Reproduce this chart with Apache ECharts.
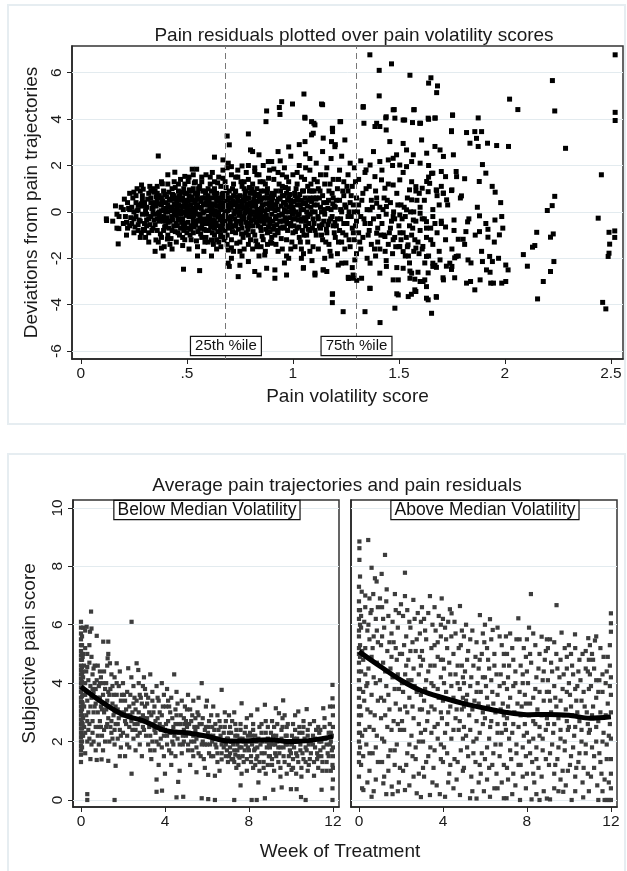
<!DOCTYPE html>
<html>
<head>
<meta charset="utf-8">
<title>Pain residuals and pain trajectories</title>
<script src="https://cdn.jsdelivr.net/npm/echarts@6/dist/echarts.min.js"></script>
<style>
  html, body { margin: 0; padding: 0; background: #fff; }
  #chart { width: 627px; height: 871px; }
</style>
</head>
<body>
<div id="chart"></div>
<script>
// axis ticks
const volatilityTicks = [0, 0.5, 1, 1.5, 2, 2.5]
const volatilityTickLabels = ['0', '.5', '1', '1.5', '2', '2.5']
const deviationTicks = [-6, -4, -2, 0, 2, 4, 6]
const weekTicks = [0, 4, 8, 12]
const painTicks = [0, 2, 4, 6, 8, 10]

// percentile cut points of volatility
const percentiles = [0.684, 1.30]
const percentileLabels = ['25th %ile', '75th %ile']

// average trajectories (weekly)
const weeks = [0, 1, 2, 3, 4, 5, 6, 7, 8, 9, 10, 11, 12]
const belowTrend = [3.88, 3.35, 2.92, 2.7, 2.38, 2.3, 2.18, 2.02, 2.03, 2.06, 2.0, 2.05, 2.17]
const aboveTrend = [5.08, 4.58, 4.1, 3.73, 3.5, 3.3, 3.14, 3.0, 2.92, 2.93, 2.9, 2.8, 2.85]
const panelLabels = ['Below Median Volatility', 'Above Median Volatility']

// [volatility score, deviation] - outer, sparser points
const residualsOuter = [
  [0.121,-0.37],[0.163,0.26],[0.176,-1.38],[0.179,-0.72],[0.365,2.41],[0.484,-2.47],[0.56,-2.53],[0.388,-1.9],[0.354,-1.21],[0.38,-1.56],
  [0.443,1.71],[0.384,1.21],[0.286,1.16],[0.294,0.98],[0.23,0.8],[0.25,0.85],[0.616,-1.9],[0.63,2.36],[0.525,1.84],[0.546,1.84],
  [0.49,1.53],[0.506,1.31],[0.69,3.27],[0.70,2.89],[0.79,3.36],[0.80,2.67],[0.81,2.6],[0.84,2.46],[0.67,2.24],[0.695,2.1],
  [0.71,1.95],[0.76,1.98],[0.79,2.0],[0.82,1.74],[0.884,2.17],[0.90,2.17],[0.695,-2.21],[0.70,-2.35],[0.742,-2.79],[0.75,-2.3],
  [0.79,-2.14],[0.82,-2.57],[0.84,-2.72],[0.876,-2.43],[0.915,-2.5],[0.833,-1.42],[0.867,-1.86],[0.90,-1.35],[0.616,-1.21],[0.66,-1.07],
  [0.695,-1.64],[0.71,-2.0],[0.393,-1.5],[0.408,-1.17],
  [0.947,4.75],[0.998,4.65],[1.135,4.65],[0.876,4.35],[0.936,4.5],[0.939,4.2],[0.873,3.89],[1.057,4.04],[1.088,3.89],[1.104,3.75],
  [1.187,3.6],[1.187,3.46],[1.225,3.89],[1.088,3.32],[1.096,3.39],[1.057,3.03],[1.143,3.18],[1.182,3.03],[1.198,2.81],[1.245,3.1],
  [1.332,4.54],[1.335,3.82],[1.395,3.82],[1.41,3.68],[1.44,3.53],[1.387,3.68],[1.473,4.4],[1.481,4.04],[1.44,4.1],[1.52,3.96],
  [1.564,3.85],[1.57,4.4],[1.598,3.82],[1.638,4.04],[1.67,4.04],[1.753,4.18],[1.748,3.5],
  [1.457,3.03],[1.489,2.46],[1.52,2.95],[1.536,2.67],[1.568,2.46],[1.607,3.1],[1.631,2.53],[1.67,2.82],[1.694,2.67],[1.71,2.39],[1.757,2.46],
  [1.41,2.17],[1.45,2.24],[1.473,2.31],[1.504,2.02],[1.536,1.95],[1.56,2.17],[1.6,2.1],[1.64,2.0],[1.66,1.67],[1.7,1.74],[1.72,1.52],[1.77,1.74],
  [1.364,2.02],[1.345,1.81],[1.387,1.52],[1.418,1.38],[1.434,1.02],[1.473,1.16],[1.504,1.38],[1.55,0.95],[1.58,1.09],[1.61,1.02],
  [1.645,1.23],[1.676,0.95],[1.71,0.81],[1.75,0.95],
  [1.364,0.09],[1.395,0.37],[1.441,0.23],[1.473,-0.2],[1.504,-0.13],[1.536,0.09],[1.568,-0.35],[1.6,-0.06],[1.63,-0.42],[1.66,-0.2],
  [1.7,-0.5],[1.72,-0.65],[1.76,-0.35],
  [1.395,-0.92],[1.434,-1.06],[1.473,-1.2],[1.504,-1.49],[1.52,-1.71],[1.543,-1.42],[1.58,-1.56],[1.613,-1.49],[1.63,-1.92],[1.66,-2.21],
  [1.694,-2.07],[1.74,-2.21],[1.77,-1.92],
  [1.364,-2.21],[1.41,-2.64],[1.441,-2.35],[1.473,-2.93],[1.52,-2.43],[1.56,-2.64],[1.6,-3.0],[1.63,-3.22],[1.66,-2.35],[1.71,-2.93],[1.75,-2.35],
  [1.187,-3.53],[1.364,-3.3],[1.49,-3.53],[1.544,-3.65],[1.58,-3.43],[1.63,-3.72],[1.676,-3.65],[1.301,-2.95],[1.262,-2.87],[1.284,-2.72],
  [0.915,-2.86],[0.97,-2.72],[1.049,-2.43],[1.104,-2.64],[1.143,-2.5],[1.214,-2.29],
  [1.363,6.77],[1.465,6.38],[1.407,6.1],[1.552,5.89],[1.651,5.78],[1.64,5.55],[1.682,5.43],[1.678,5.14],[1.407,5.0],[1.14,4.62],
  [1.052,5.08],[1.331,4.51],[1.478,4.41],[1.572,4.41],[1.056,4.08],[1.438,4.05],[1.527,3.96],[1.602,3.82],[1.64,3.99],[1.671,4.05],
  [1.753,4.16],[1.874,4.05],[2.022,4.86],[2.061,4.41],[2.224,5.66],[2.235,4.35],[2.52,6.77],[2.52,4.29],[2.52,3.94],[2.286,2.74],
  [2.455,1.6],[2.235,0.67],[2.223,0.27],[2.2,0.06],[1.954,0.85],[2.017,2.82],[1.961,2.86],[1.918,2.96],[1.874,2.82],[1.894,2.04],
  [1.879,1.31],[1.91,1.67],[1.81,1.43],[1.772,1.52],[1.795,0.69],[1.748,3.46],[1.819,3.42],[1.858,3.46],[1.89,3.46],[1.866,3.17],
  [1.835,2.96],[1.222,3.89],[1.186,3.6],[1.099,3.82],[1.709,0.8],[1.748,0.92],[1.725,0.52],[1.678,0.92],[1.631,1.31],[1.638,0.87],
  [1.654,1.66],[1.596,0.8],[1.56,0.52],[2.44,-0.27],
  [2.491,-0.88],[2.518,-0.82],[2.518,-1.1],[2.494,-1.39],[2.491,-1.78],[2.487,-1.92],[2.461,-3.9],[2.476,-4.18],[2.154,-3.75],[2.181,-3.0],
  [2.215,-2.57],[2.231,-2.14],[2.215,-1.09],[2.228,-0.95],[2.15,-0.88],[2.141,-1.45],[2.13,-1.52],[2.087,-1.84],[2.106,-2.34],[1.985,-0.2],
  [1.953,-0.35],[1.974,-0.99],[1.92,-0.75],[1.92,-1.09],[1.88,-0.85],[1.88,-0.17],[1.824,-0.43],[1.816,-0.85],[1.803,-1.18],[1.78,-1.18],
  [1.826,-2.07],[1.928,-1.92],[1.941,-2.14],[1.913,-2.5],[1.894,-2.14],[2.004,-2.29],[2.015,-2.5],[2.004,-3.0],[1.985,-3.07],[1.946,-3.07],
  [1.933,-3.07],[1.883,-2.93],[1.838,-3.0],[1.819,-3.07],[1.858,-3.36],
  [1.763,-1.98],[1.748,-2.48],[1.763,-2.84],[1.708,-2.84],[1.724,-2.34],[1.677,-2.39],[1.638,-2.63],[1.622,-2.2],[1.575,-2.9],[1.552,-2.55],
  [1.552,-2.86],[1.622,-2.93],[1.614,-3.0],[1.497,-2.93],[1.497,-3.58],[1.559,-3.55],[1.575,-3.36],[1.638,-3.79],[1.677,-3.68],[1.654,-4.37],
  [1.481,-4.15],[1.411,-4.77],[1.34,-4.3],[1.237,-4.3],[1.186,-3.55],[1.186,-3.91],
  [1.284,-2.86],[1.261,-2.82],[1.324,-2.86],[1.363,-3.29],[1.292,-2.07],[1.23,-2.21],[1.16,-2.57],[1.143,-2.5],[1.104,-2.72]
]

// [volatility score, deviation] - dense core of the cloud
const residualsCore = [
  [0.12,-0.3],[0.15,-0.4],[0.17,-0.1],[0.17,-0.7],[0.19,0.2],[0.2,-0.5],[0.2,0.1],[0.18,-0.2],
  [0.21,-0.2],[0.22,0.4],[0.22,-0.7],[0.23,-0.6],[0.23,0.1],[0.24,0.2],[0.24,-0.5],[0.25,-0.3],[0.25,0],[0.25,-0.9],[0.26,0.4],[0.26,0.7],
  [0.26,-0.2],[0.27,-0.8],[0.27,0.1],[0.27,0.3],[0.28,-0.4],[0.28,0.9],[0.28,-1.1],[0.29,0.7],[0.29,-0.1],[0.29,0.5],[0.3,0.4],[0.3,-0.5],[0.3,-0.8],
  [0.31,0.2],[0.31,-0.6],[0.31,-0.1],[0.32,0.8],[0.32,-0.9],[0.32,-0.3],[0.32,-1.3],[0.33,-0.2],[0.33,0.4],[0.33,0.9],[0.34,-0.7],[0.34,0.2],
  [0.34,1.0],[0.34,0],[0.35,0.9],[0.35,-0.1],[0.35,-1.7],[0.35,0.4],[0.36,-0.8],[0.36,0.5],[0.36,-0.3],[0.36,1.1],[0.37,0],[0.37,-0.4],
  [0.37,0.7],[0.38,0.6],[0.38,-1.1],[0.38,0.3],[0.38,1.3],[0.39,0.1],[0.39,0.9],[0.39,-0.2],[0.39,-0.4],[0.4,-0.6],[0.4,0.4],[0.4,0],
  [0.41,0],[0.41,-1.0],[0.41,1.2],[0.41,0.3],[0.42,0.5],[0.42,-0.4],[0.42,-1.4],[0.43,0.2],[0.43,-0.8],[0.43,1.0],[0.44,-0.1],[0.44,0.7],
  [0.44,1.3],[0.45,-0.5],[0.45,0.3],[0.45,-1.3],[0.45,0.6],[0.46,0.9],[0.46,0],[0.46,-0.3],[0.47,-0.7],[0.47,0.5],[0.47,1.4],[0.47,-0.1],
  [0.48,-0.3],[0.48,0.2],[0.48,-1.1],[0.49,0.8],[0.49,-0.5],[0.49,1.2],[0.5,0.1],[0.5,-0.9],[0.5,0.5],
  [0.51,-0.2],[0.51,0.7],[0.51,1.5],[0.52,-0.6],[0.52,0.3],[0.52,-1.2],[0.52,0.9],[0.53,0],[0.53,1.0],[0.53,-0.9],[0.53,-0.3],[0.54,0.5],
  [0.54,-0.4],[0.54,1.3],[0.54,0.1],[0.55,-0.1],[0.55,0.8],[0.55,-1.5],[0.55,0.3],[0.56,0.2],[0.56,-0.7],[0.56,1.1],[0.56,-0.4],[0.57,-0.3],
  [0.57,0.6],[0.57,-1.1],[0.57,1.3],[0.58,0],[0.58,0.9],[0.58,-0.5],[0.58,-1.7],[0.59,1.6],[0.59,0.4],[0.59,-0.8],[0.6,-0.2],[0.6,0.7],[0.6,-1.3],
  [0.61,0.2],[0.61,-0.5],[0.61,1.2],[0.61,-0.2],[0.62,-0.9],[0.62,0.6],[0.62,-0.1],[0.62,1.7],[0.63,1.0],[0.63,-0.4],[0.63,0.3],[0.63,-0.7],
  [0.64,-1.2],[0.64,0.8],[0.64,0],[0.64,-1.6],[0.65,-0.6],[0.65,0.5],[0.65,1.5],[0.65,-1.3],[0.66,-0.2],[0.66,1.1],[0.66,-1.0],[0.66,0.4],
  [0.67,0.2],[0.67,-0.5],[0.67,0.8],[0.67,1.8],[0.68,-0.8],[0.68,1.3],[0.68,0],[0.68,0.7],[0.68,-1.1],[0.69,0.5],[0.69,-0.3],[0.69,-1.4],
  [0.69,1.9],[0.7,0.9],[0.7,0.1],[0.7,-0.7],
  [0.71,-0.2],[0.71,0.6],[0.71,-1.2],[0.71,1.6],[0.72,0.3],[0.72,1.2],[0.72,-0.6],[0.72,-1.7],[0.73,0],[0.73,-0.9],[0.73,0.9],[0.73,0.4],
  [0.74,0.5],[0.74,-0.4],[0.74,1.5],[0.74,1.8],[0.75,-0.1],[0.75,-1.3],[0.75,0.7],[0.75,0.2],[0.76,0.2],[0.76,-0.7],[0.76,1.1],[0.76,-1.9],
  [0.77,-0.3],[0.77,0.5],[0.77,-1.6],[0.77,1.0],[0.78,0.9],[0.78,0],[0.78,-0.9],[0.78,1.7],[0.79,1.4],[0.79,-0.5],[0.79,0.3],[0.79,-1.4],
  [0.8,-0.1],[0.8,0.8],[0.8,-1.2],[0.8,0.4],
  [0.81,0.3],[0.81,-0.6],[0.81,1.2],[0.82,-0.2],[0.82,0.7],[0.82,-1.0],[0.82,1.9],[0.83,0.1],[0.83,1.0],[0.83,-1.5],[0.83,-0.1],[0.84,-0.4],
  [0.84,0.5],[0.84,1.6],[0.84,-1.9],[0.85,0],[0.85,-0.8],[0.85,0.9],[0.85,0.5],[0.86,-1.2],[0.86,0.3],[0.86,1.3],[0.86,2.0],[0.87,-0.3],
  [0.87,0.6],[0.87,-1.7],[0.88,0.1],[0.88,1.0],[0.88,-0.9],[0.88,-1.4],[0.89,-0.5],[0.89,0.4],[0.89,1.8],[0.9,-0.1],[0.9,0.8],[0.9,-1.1],
  [0.91,0.3],[0.91,-0.6],[0.91,1.4],[0.92,-0.2],[0.92,0.9],[0.92,-1.4],[0.93,0.1],[0.93,-0.9],[0.93,1.7],[0.93,2.6],[0.94,0.6],[0.94,-0.4],
  [0.94,2.2],[0.95,-0.1],[0.95,1.1],[0.95,-1.6],[0.95,0.7],[0.96,0.4],[0.96,-0.7],[0.96,1.9],[0.96,-2.2],[0.97,-0.3],[0.97,0.8],[0.97,-1.2],
  [0.97,-1.9],[0.98,0],[0.98,1.3],[0.98,-2.0],[0.98,2.8],[0.99,0.5],[0.99,-0.5],[0.99,2.4],[1.0,-0.9],[1.0,0.2],[1.0,1.6],
  [1.01,-0.3],[1.01,0.7],[1.01,-1.5],[1.02,0.3],[1.02,1.2],[1.02,-0.7],[1.03,-0.1],[1.03,2.0],[1.03,-1.1],[1.03,2.9],[1.04,0.5],[1.04,-0.4],
  [1.04,1.5],[1.04,-1.6],[1.05,0.1],[1.05,-1.8],[1.05,0.9],[1.05,-2.4],[1.06,-0.6],[1.06,2.5],[1.06,0.4],[1.07,-0.2],[1.07,1.1],[1.07,-1.3],
  [1.08,0.6],[1.08,-0.8],[1.08,1.8],[1.08,2.3],[1.09,0],[1.09,-2.1],[1.09,0.9],[1.1,-0.5],[1.1,0.3],[1.1,1.4],
  [1.11,-1.0],[1.11,0.6],[1.11,2.1],[1.12,-0.3],[1.12,1.0],[1.12,-1.6],[1.13,0.2],[1.13,1.6],[1.13,-0.7],[1.14,-1.2],[1.14,0.7],[1.14,2.6],
  [1.15,-0.1],[1.15,1.2],[1.15,-2.0],[1.16,0.4],[1.16,-0.9],[1.16,1.9],[1.17,-0.4],[1.17,0.9],[1.17,-1.4],[1.18,0.1],[1.18,2.3],[1.18,-1.9],
  [1.19,0.6],[1.19,-0.6],[1.19,1.4],[1.2,-1.1],[1.2,0.2],[1.2,2.9],
  [1.21,-0.3],[1.21,1.0],[1.21,-1.8],[1.22,0.5],[1.22,-0.8],[1.22,1.8],[1.23,0],[1.23,-1.3],[1.23,2.4],[1.24,0.7],[1.24,-0.5],[1.24,1.3],
  [1.25,-2.2],[1.25,0.2],[1.25,-1.0],[1.26,1.6],[1.26,-0.2],[1.26,0.9],[1.27,-1.5],[1.27,0.4],[1.27,2.1],[1.28,-0.7],[1.28,1.1],[1.28,-2.4],
  [1.29,0],[1.29,-1.2],[1.29,1.9],[1.3,0.6],[1.3,-0.4],[1.3,-1.8],
  [1.31,-0.9],[1.31,0.3],[1.31,1.4],[1.32,-1.6],[1.32,-0.2],[1.32,2.2],[1.33,0.8],[1.33,-1.1],[1.34,-0.5],[1.34,1.7],[1.35,0.1],[1.35,-2.0],
  [1.36,-0.8],[1.36,1.1],[1.37,-1.4],[1.37,0.5],[1.38,-0.3],[1.38,2.6],[1.39,-1.9],[1.39,0.9],[1.4,-0.7],[1.4,-1.3],
  [1.41,0.2],[1.41,-1.6],[1.42,-0.5],[1.42,1.8],[1.43,-1.0],[1.43,0.6],[1.44,-2.1],[1.44,-0.1],[1.45,-1.4],[1.45,1.2],[1.46,-0.7],[1.46,0.4],
  [1.47,-1.8],[1.47,2.0],[1.48,-0.3],[1.48,-1.1],[1.49,0.8],[1.49,-2.4],[1.5,-0.6],[1.5,-1.5],
  [1.51,0.3],[1.51,-1.2],[1.52,-0.9],[1.52,1.7],[1.53,-1.9],[1.53,-0.2],[1.54,0.6],[1.54,-1.5],[1.55,-0.6],[1.55,-2.2],[1.56,1.3],[1.56,-1.0],
  [1.57,0],[1.57,-1.7],[1.58,-0.4],[1.58,0.9],[1.59,-1.3],[1.59,-2.6],[1.6,0.2],[1.6,-0.8],
  [1.61,-1.6],[1.62,0.5],[1.62,-0.3],[1.63,-1.1],[1.64,-1.9],[1.64,1.5],[1.65,-0.7],[1.66,0.1],[1.66,-1.4],[1.67,-2.3],[1.68,0.7],[1.68,-0.9],
  [1.69,-1.7],[1.7,-0.4],[1.7,1.1],
  [1.72,-1.2],[1.73,0.3],[1.75,-1.6],[1.76,-0.8],[1.78,-1.9],[1.79,0.6],[1.81,-1.4],[1.83,-0.3],[1.84,-2.2],[1.86,-1.0],[1.87,0.2],[1.89,-1.7],
  [1.91,-0.5],[1.93,-2.6],[1.95,-1.3],[1.97,-2.0],[1.99,-0.7],[1.98,0.4],[1.94,1.1]
]

// [volatility score, deviation] - more points read between the core columns
const residualsFill = [
  [0.205,0.55],[0.215,-0.45],[0.225,0.15],[0.235,-0.25],[0.245,0.6],[0.255,-0.65],[0.265,0.05],[0.275,-0.35],[0.285,0.35],[0.295,-0.75],
  [0.215,-1.0],[0.265,1.0],[0.285,-0.9],
  [0.305,0.05],[0.315,0.55],[0.325,-0.55],[0.335,0.15],[0.345,-0.35],[0.355,0.65],[0.365,-0.05],[0.375,-0.95],[0.385,0.45],[0.395,-0.65],
  [0.305,-1.1],[0.325,1.1],[0.345,0.85],[0.365,-1.3],[0.385,-0.3],[0.395,0.75],[0.355,0.25],[0.335,-0.8],
  [0.405,-0.25],[0.405,0.65],[0.415,-0.7],[0.415,0.85],[0.425,0.05],[0.425,-1.15],[0.435,0.55],[0.435,-0.35],[0.445,-0.85],[0.445,1.05],
  [0.455,0.15],[0.455,-0.6],[0.465,0.7],[0.465,-1.0],[0.475,0.25],[0.475,-0.45],[0.485,1.0],[0.485,-0.8],[0.495,0.35],[0.495,-0.15],
  [0.41,1.6],[0.43,-1.6],[0.46,1.2],[0.48,-1.45],[0.44,0.35],[0.47,0.05],[0.49,-1.2],[0.42,0.2],[0.45,-0.15],[0.48,0.6],
  [0.505,-0.45],[0.505,0.45],[0.515,0.1],[0.515,-1.0],[0.525,0.65],[0.525,-0.2],[0.535,1.25],[0.535,-0.65],[0.545,0.2],[0.545,-1.25],
  [0.555,-0.35],[0.555,1.0],[0.565,0.45],[0.565,-0.95],[0.575,-0.05],[0.575,0.9],[0.585,-1.3],[0.585,0.3],[0.595,0.05],[0.595,-0.5],
  [0.51,-1.6],[0.53,1.6],[0.55,-1.9],[0.57,1.5],[0.59,-1.1],[0.52,0.0],[0.54,0.8],[0.56,-0.1],[0.58,0.6],[0.6,0.3],[0.53,-0.5],[0.57,-0.7],
  [0.605,0.45],[0.605,-0.8],[0.615,0.0],[0.615,0.9],[0.625,-0.35],[0.625,-1.4],[0.635,0.65],[0.635,-0.15],[0.645,1.25],[0.645,-0.85],
  [0.655,0.2],[0.655,-0.35],[0.665,-0.7],[0.665,0.75],[0.675,0.4],[0.675,-1.2],[0.685,-0.1],[0.685,1.05],[0.695,0.25],[0.695,-0.6],
  [0.61,1.5],[0.63,-1.0],[0.65,0.0],[0.67,-0.25],[0.69,0.8],[0.62,0.15],[0.64,0.45],[0.66,-1.5],[0.68,-0.45],[0.6,1.0],[0.63,1.3],[0.67,1.45],[0.69,-1.0],
  [0.705,0.4],[0.705,-0.45],[0.715,1.0],[0.715,-0.85],[0.725,0.05],[0.725,-0.3],[0.735,0.65],[0.735,-1.35],[0.745,-0.15],[0.745,0.25],
  [0.755,1.3],[0.755,-0.5],[0.765,0.5],[0.765,-1.1],[0.775,-0.05],[0.775,0.8],[0.785,-0.6],[0.785,0.35],[0.795,-0.25],[0.795,1.05],
  [0.71,-1.55],[0.73,1.5],[0.75,-1.7],[0.77,1.3],[0.79,-1.0],[0.72,0.7],[0.74,0.0],[0.76,-0.3],[0.78,0.55],[0.8,-0.6],[0.73,-0.6],[0.77,0.15],
  [0.805,0.0],[0.805,1.0],[0.815,-0.35],[0.815,0.55],[0.825,-1.25],[0.825,0.25],[0.835,0.75],[0.835,-0.6],[0.845,-0.1],[0.845,1.3],
  [0.855,0.3],[0.855,-1.05],[0.865,-0.5],[0.865,0.9],[0.875,0.35],[0.875,-0.15],[0.885,-0.65],[0.885,1.45],[0.895,0.15],[0.895,-1.3],
  [0.81,-1.6],[0.83,1.6],[0.85,-1.5],[0.87,1.2],[0.89,-0.3],[0.82,0.4],[0.84,0.1],[0.86,-0.2],[0.88,0.6],[0.9,0.45],
  [0.905,-0.4],[0.905,0.6],[0.915,0.05],[0.915,-1.0],[0.925,0.45],[0.925,-0.55],[0.935,1.2],[0.935,-0.15],[0.945,-1.15],[0.945,0.25],
  [0.955,0.4],[0.955,-0.4],[0.965,1.05],[0.965,0.0],[0.975,-0.8],[0.975,0.5],[0.985,-0.25],[0.985,0.75],[0.995,0.15],[0.995,-1.3],
  [0.91,1.85],[0.93,-1.7],[0.95,1.6],[0.97,1.5],[0.99,-1.6],[0.92,0.3],[0.94,-0.7],[0.96,0.1],[0.98,0.6],[1.0,-0.3],
  [1.005,0.45],[1.005,-0.6],[1.015,1.0],[1.015,0.0],[1.025,-0.35],[1.025,0.6],[1.035,-1.3],[1.035,0.3],[1.045,0.9],[1.045,-0.8],
  [1.055,-0.25],[1.055,1.4],[1.065,0.0],[1.065,-1.0],[1.075,0.5],[1.075,-0.5],[1.085,1.2],[1.085,0.2],[1.095,-0.3],[1.095,-1.5],
  [1.02,1.7],[1.04,-2.0],[1.06,1.9],[1.08,-1.7],[1.1,0.9],
  [1.105,0.0],[1.105,-0.8],[1.115,0.3],[1.115,1.3],[1.125,-0.6],[1.125,0.6],[1.135,-1.0],[1.135,0.0],[1.145,0.4],[1.145,-0.4],
  [1.155,1.6],[1.155,-1.3],[1.165,0.15],[1.165,-0.55],[1.175,1.2],[1.175,-1.7],[1.185,-0.2],[1.185,0.8],[1.195,-0.9],[1.195,0.25],
  [1.205,0.5],[1.205,-0.6],[1.215,1.4],[1.215,-1.3],[1.225,0.1],[1.225,-0.3],[1.235,0.9],[1.235,-0.9],[1.245,-1.6],[1.245,0.3],
  [1.255,1.1],[1.255,-0.5],[1.265,0.0],[1.265,-1.2],[1.275,0.7],[1.275,-0.2],[1.285,-0.9],[1.285,0.3],[1.295,1.3],[1.295,-0.6],
  [1.305,0.0],[1.315,-1.3],[1.325,0.5],[1.335,-0.3],[1.345,1.0],[1.355,-1.0],[1.365,-0.5],[1.375,0.2],[1.385,-1.6],[1.395,0.6],
  [1.405,-0.2],[1.415,-1.0],[1.425,0.1],[1.435,-1.7],[1.445,0.5],[1.455,-0.9],[1.465,-0.4],[1.475,0.0],[1.485,-1.5],[1.495,0.3],
  [1.505,-0.9],[1.515,-0.3],[1.525,0.2],[1.535,-1.1],[1.545,-1.9],[1.555,0.0],[1.565,-0.7],[1.575,-1.2],[1.585,0.5],[1.595,-1.8],
  [1.61,-0.3],[1.63,-0.7],[1.65,-1.2],[1.67,-0.5],[1.69,0.3]
]

// [volatility score, deviation] - darkest part of the cloud, around zero
const residualsCenter = [
  [0.402,0.15],[0.412,-0.45],[0.418,0.55],[0.428,-0.2],[0.432,0.75],[0.438,-0.6],[0.442,0.1],[0.452,0.45],[0.458,-0.9],[0.462,0.3],
  [0.468,-0.35],[0.472,0.85],[0.478,-0.05],[0.482,-0.6],[0.488,0.45],[0.492,0.0],[0.498,0.8],[0.498,-0.7],
  [0.502,0.25],[0.508,-0.1],[0.512,0.95],[0.518,-0.75],[0.522,0.5],[0.528,0.15],[0.532,-0.15],[0.538,0.4],[0.542,-0.55],[0.548,0.65],
  [0.552,-0.85],[0.558,0.55],[0.562,-0.2],[0.568,0.15],[0.572,-0.5],[0.578,0.35],[0.582,-0.75],[0.588,0.8],[0.592,-0.3],[0.598,0.55],
  [0.602,-0.35],[0.608,0.1],[0.612,-0.65],[0.618,0.35],[0.622,-0.55],[0.628,0.8],[0.632,0.05],[0.638,-0.5],[0.642,0.25],[0.648,-0.2],
  [0.652,0.6],[0.658,-0.8],[0.662,0.1],[0.668,-0.4],[0.672,0.6],[0.678,-0.15],[0.682,0.3],[0.688,-0.65],[0.692,0.05],[0.698,0.6],
  [0.702,-0.25],[0.708,0.2],[0.712,-0.65],[0.718,0.45],[0.722,-0.1],[0.728,0.85],[0.732,-0.45],[0.738,0.2],[0.742,-0.75],[0.748,0.45],
  [0.752,0.0],[0.758,-0.95],[0.762,0.35],[0.768,-0.2],[0.772,0.65],[0.778,-0.45],[0.782,0.15],[0.788,-0.75],[0.792,0.6],[0.798,0.1],
  [0.802,-0.4],[0.808,0.25],[0.812,-0.85],[0.818,0.85],[0.822,0.0],[0.828,-0.45],[0.832,0.45],[0.838,-0.25],[0.842,0.7],[0.848,-0.65],
  [0.852,0.15],[0.858,-0.4],[0.862,0.6],[0.868,0.05],[0.872,-0.75],[0.878,0.8],[0.882,-0.35],[0.888,0.3],[0.892,-0.85],[0.898,0.65],
  [0.902,0.2],[0.908,-0.75],[0.912,0.75],[0.918,-0.3],[0.922,0.1],[0.928,-0.8],[0.932,0.55],[0.938,-0.4],[0.942,0.9],[0.948,-0.1],
  [0.952,-0.65],[0.958,0.7],[0.962,-0.25],[0.968,0.3],[0.972,-0.5],[0.978,1.0],[0.982,0.2],[0.988,-0.6],[0.992,0.35],[0.998,-0.1],
  [1.002,0.05],[1.008,0.8],[1.012,-0.85],[1.018,0.5],[1.022,-0.15],[1.028,-0.65],[1.032,0.75],[1.038,0.1],[1.042,-0.3],[1.048,0.35],
  [1.052,-1.0],[1.058,0.6],[1.062,-0.4],[1.068,0.25],[1.072,-0.75],[1.078,0.9],[1.082,-0.1],[1.088,0.45],[1.092,-0.7],[1.098,0.6],
  [1.108,0.55],[1.118,-0.2],[1.128,0.9],[1.138,-0.55],[1.148,0.1],[1.158,-0.75],[1.168,0.5],[1.178,-0.3],[1.188,0.35],[1.198,-0.45],
  [0.35,-0.55],[0.36,0.8],[0.37,-0.2],[0.38,0.05],[0.39,-0.8],[0.37,0.35],[0.33,0.6],[0.31,-0.35],[0.29,0.25],[0.27,-0.55]
]

// [week, subjective pain] - below median volatility
const belowPoints = [
  [0,6.1],[0,5.7],[0,5.5],[0.05,5.3],[0,5.1],[0,4.95],[0.05,4.8],[0,4.6],[0,4.45],[0.05,4.3],[0,4.15],[0,4.0],[0.05,3.85],[0,3.7],[0,3.5],
  [0.05,3.35],[0,3.2],[0,3.05],[0.05,2.9],[0,2.75],[0,2.6],[0.05,2.45],[0,2.3],[0,2.15],[0.05,2.0],[0,1.85],[0,1.7],[0,1.3],[0.1,5.9],[0.1,5.0],
  [0.1,4.2],[0.1,3.6],[0.1,2.8],[0.1,2.2],
  [0.2,5.8],[0.27,5.93],[0.43,5.76],[0.5,5.87],[0.48,6.45],[0.2,5.2],[0.3,5.0],[0.4,4.7],[0.25,4.4],[0.35,4.1],[0.5,4.9],[0.55,4.3],[0.6,3.7],
  [0.3,3.4],[0.45,3.2],[0.6,3.0],[0.25,2.9],[0.4,2.6],[0.55,2.3],[0.3,2.0],[0.5,1.9],[0.7,1.7],[0.75,1.37],[0.3,0.2],[0.3,0],[0.75,5.62],
  [0.8,4.6],[0.85,3.9],[0.9,3.5],[0.7,3.3],[0.9,2.7],[0.8,2.2],[0.95,4.2],[0.65,4.0],[0.2,3.6],[0.15,2.5],[0.2,1.6],
  [1.06,5.42],[1.3,5.42],[1.3,5.0],[1.27,4.85],[1.38,4.68],[1.7,4.68],[1.1,4.4],[1.2,4.0],[1.4,3.8],[1.6,4.2],[1.8,3.9],[1.05,3.6],[1.25,3.4],
  [1.5,3.3],[1.7,3.6],[1.9,3.4],[1.1,3.0],[1.3,2.8],[1.55,2.9],[1.75,3.1],[1.95,2.9],[1.2,2.5],[1.45,2.3],[1.65,2.6],[1.85,2.4],[1.0,2.2],
  [1.35,2.0],[1.6,1.9],[1.9,1.8],[0.98,1.39],[1.3,1.34],[1.65,1.17],[1.6,0],[1.15,3.8],[1.45,4.3],[1.85,4.4],[1.0,3.1],[1.75,2.1],
  [2.41,6.1],[2.0,4.0],[2.2,3.7],[2.4,4.2],[2.65,4.68],[2.25,4.51],[2.73,4.45],[2.5,3.9],[2.8,3.6],[2.1,3.4],[2.3,3.2],[2.55,3.5],[2.9,3.3],
  [2.05,3.0],[2.35,2.9],[2.6,3.1],[2.85,2.8],[2.15,2.6],[2.45,2.4],[2.7,2.6],[2.95,2.5],[2.2,2.2],[2.5,2.1],[2.8,2.3],[2.3,1.8],[2.6,1.7],
  [2.9,1.5],[2.41,0.9],[2.1,1.5],[2.75,4.0],[2.95,3.9],
  [3.0,4.2],[3.3,4.3],[3.6,3.9],[3.85,4.0],[3.1,3.6],[3.4,3.7],[3.7,3.4],[3.95,3.6],[3.05,3.2],[3.25,3.0],[3.5,3.2],[3.75,3.0],[3.15,2.8],
  [3.45,2.6],[3.65,2.8],[3.9,2.5],[3.0,2.4],[3.3,2.2],[3.55,2.3],[3.8,2.1],[3.2,1.9],[3.5,1.7],[3.85,1.8],[3.35,1.4],[3.7,1.2],[3.6,0.7],
  [3.6,0.28],[3.86,0.32],[3.95,1.5],[3.4,3.4],
  [4.44,4.3],[4.1,3.8],[4.3,3.5],[4.55,3.7],[4.8,3.4],[4.05,3.2],[4.25,3.0],[4.5,3.1],[4.75,2.9],[4.95,3.2],[4.15,2.7],[4.4,2.5],[4.65,2.6],
  [4.9,2.4],[4.1,2.2],[4.35,2.0],[4.6,2.1],[4.85,1.9],[4.2,1.7],[4.5,1.5],[4.8,1.6],[4.3,1.2],[4.7,1.0],[4.63,0.62],[4.55,0.09],[4.87,0.11],
  [4.0,0.9],[4.9,2.8],
  [5.1,3.6],[5.35,3.4],[5.6,3.5],[5.75,4.0],[5.05,3.1],[5.3,2.9],[5.55,3.0],[5.8,2.8],[5.15,2.6],[5.4,2.5],[5.65,2.6],[5.9,2.4],[5.0,2.2],
  [5.25,2.0],[5.5,2.1],[5.75,1.9],[5.1,1.7],[5.35,1.5],[5.6,1.6],[5.85,1.4],[5.2,1.2],[5.5,0.95],[5.75,0.06],[5.9,1.1],[5.45,2.8],[5.95,3.2],
  [6.0,3.4],[6.3,3.2],[6.7,3.77],[6.5,2.9],[6.85,3.0],[6.1,2.7],[6.4,2.6],[6.65,2.5],[6.9,2.7],[6.05,2.3],[6.3,2.2],[6.55,2.1],[6.8,2.3],
  [6.15,1.9],[6.45,1.8],[6.7,1.9],[6.95,1.7],[6.2,1.5],[6.5,1.3],[6.7,1.39],[6.9,1.5],[6.06,0.86],[6.38,0.83],[6.06,0.03],[6.38,0],[6.6,1.0],
  [6.25,2.5],
  [7.05,2.9],[7.3,3.0],[7.65,3.31],[7.9,2.8],[7.1,2.5],[7.35,2.6],[7.6,2.4],[7.85,2.5],[7.0,2.1],[7.2,2.0],[7.45,2.2],[7.7,2.1],[7.95,2.2],
  [7.1,1.8],[7.3,1.7],[7.55,1.8],[7.8,1.7],[7.05,1.5],[7.25,1.4],[7.5,1.5],[7.75,1.3],[7.17,1.39],[7.4,1.1],[7.65,0.9],[7.9,1.0],[7.3,0],
  [7.6,0.5],[7.45,1.9],[7.15,2.3],
  [8.1,2.9],[8.4,3.1],[8.76,3.26],[8.2,2.6],[8.5,2.5],[8.8,2.7],[8.05,2.3],[8.3,2.2],[8.6,2.3],[8.9,2.1],[8.15,1.9],[8.4,1.8],[8.29,1.76],
  [8.6,1.6],[8.85,1.8],[8.1,1.5],[8.35,1.4],[8.7,1.3],[8.95,1.5],[8.2,1.1],[8.5,1.0],[8.8,0.9],[8.13,0],[8.37,0],[8.76,0.06],[8.45,0.6],[8.9,2.5],
  [9.28,3.14],[9.43,2.97],[9.63,3.41],[9.1,2.7],[9.35,2.6],[9.6,2.8],[9.85,2.6],[9.05,2.3],[9.3,2.2],[9.55,2.4],[9.8,2.2],[9.15,1.9],[9.25,1.6],
  [9.5,1.8],[9.75,1.9],[9.95,1.7],[9.1,1.4],[9.4,1.3],[9.65,1.5],[9.9,1.2],[9.2,1.0],[9.5,0.8],[9.56,0.43],[9.16,0.35],[9.8,0.9],[9.0,1.8],[9.7,2.9],
  [10.35,3.03],[10.75,3.11],[10.1,2.6],[10.4,2.5],[10.6,2.7],[10.9,2.6],[10.05,2.2],[10.3,2.1],[10.55,2.3],[10.8,2.2],[10.15,1.8],[10.45,1.7],
  [10.7,1.8],[10.95,1.6],[10.1,1.4],[10.35,1.3],[10.6,1.4],[10.85,1.2],[10.03,1.03],[10.25,0.9],[10.5,0.8],[10.0,0.37],[10.27,0.37],[10.48,0.1],
  [10.7,0],[10.8,1.0],[10.2,2.9],
  [11.54,3.14],[11.86,3.2],[11.98,3.48],[11.98,3.94],[11.1,2.7],[11.3,2.5],[11.6,2.8],[11.85,2.6],[11.05,2.2],[11.35,2.3],[11.6,2.1],[11.9,2.3],
  [11.15,1.8],[11.4,1.7],[11.7,1.9],[11.95,1.7],[11.1,0.83],[11.25,1.4],[11.5,1.3],[11.8,1.5],[11.98,1.2],[11.46,0.35],[11.98,0.4],[11.98,0],
  [11.7,1.0],[11.3,1.1],[11.9,2.0],[11.45,2.0],[12.0,2.5],[12.0,0.7]
]

const belowFill = [
  [0,5.9],[0,5.3],[0,4.8],[0,4.3],[0,3.85],[0,3.35],[0,2.9],[0,2.45],[0,2.0],[0,1.55],[0.05,5.6],[0.05,5.0],[0.05,4.55],[0.05,4.05],
  [0.05,3.55],[0.05,3.1],[0.05,2.65],[0.05,2.2],[0.05,1.8],[0.08,4.9],[0.08,4.4],[0.08,3.3],[0.08,2.6],
  [0.15,4.6],[0.2,4.0],[0.25,3.7],[0.3,4.55],[0.35,3.0],[0.4,5.3],[0.45,3.9],[0.5,3.5],[0.55,2.7],[0.6,4.5],[0.65,3.2],[0.7,2.5],[0.75,4.1],
  [0.8,3.0],[0.85,2.5],[0.9,4.0],[0.95,3.2],[0.2,2.3],[0.35,2.4],[0.6,2.0],[0.85,1.9],[0.45,1.4],[0.7,3.8],[0.15,3.2],[0.3,2.7],[0.55,3.8],
  [0.8,3.5],[0.95,2.5],[0.4,2.1],[0.65,4.6],[0.9,4.4],
  [1.05,4.0],[1.15,3.3],[1.25,2.6],[1.35,3.6],[1.45,2.7],[1.55,3.6],[1.65,3.2],[1.75,2.6],[1.85,3.0],[1.95,3.6],[1.1,2.4],[1.2,3.1],[1.3,3.7],
  [1.4,2.5],[1.5,3.9],[1.6,2.4],[1.7,4.0],[1.8,2.8],[1.9,2.2],[1.15,2.0],[1.5,2.1],[1.85,1.5],[1.25,4.6],[1.6,3.0],[1.05,1.7],
  [2.05,3.6],[2.15,3.1],[2.25,2.9],[2.35,3.6],[2.45,3.0],[2.55,2.6],[2.65,3.4],[2.75,3.0],[2.85,3.5],[2.95,2.9],[2.1,2.7],[2.3,2.5],[2.5,3.3],
  [2.7,2.2],[2.9,2.7],[2.2,1.9],[2.6,2.4],[2.4,2.7],[2.8,1.9],[2.0,2.3],
  [3.05,3.8],[3.15,3.3],[3.25,2.5],[3.35,2.9],[3.45,3.0],[3.55,2.7],[3.65,3.5],[3.75,2.6],[3.85,2.9],[3.95,2.2],[3.1,2.2],[3.3,1.7],[3.5,2.4],
  [3.7,1.9],[3.9,3.2],[3.2,3.5],[3.6,2.0],[3.8,2.4],[3.4,2.0],[3.0,2.8],
  [4.05,2.6],[4.15,3.4],[4.25,2.3],[4.35,2.8],[4.45,2.2],[4.55,2.9],[4.65,2.3],[4.75,2.6],[4.85,2.2],[4.95,2.6],[4.1,1.9],[4.3,1.6],[4.5,2.6],
  [4.7,1.9],[4.9,2.0],[4.2,3.2],[4.6,3.3],[4.4,1.9],[4.8,2.3],[4.0,2.4],
  [5.05,2.5],[5.15,2.3],[5.25,2.7],[5.35,2.2],[5.45,2.4],[5.55,2.5],[5.65,2.2],[5.75,2.6],[5.85,2.2],[5.95,2.5],[5.1,1.9],[5.3,1.7],[5.5,1.8],
  [5.7,1.5],[5.9,1.9],[5.2,3.1],[5.6,2.9],[5.4,2.0],[5.8,2.0],[5.0,2.7],
  [6.05,2.5],[6.15,2.2],[6.25,2.0],[6.35,2.4],[6.45,2.1],[6.55,2.4],[6.65,2.2],[6.75,2.0],[6.85,2.5],[6.95,2.1],[6.1,1.6],[6.3,1.5],[6.5,1.6],
  [6.7,1.6],[6.9,1.9],[6.2,2.9],[6.6,2.7],[6.4,1.9],[6.8,1.8],[6.0,1.9],
  [7.05,2.3],[7.15,2.0],[7.25,1.9],[7.35,2.2],[7.45,1.7],[7.55,2.1],[7.65,1.8],[7.75,2.0],[7.85,1.9],[7.95,1.8],[7.1,1.6],[7.3,1.3],[7.5,1.2],
  [7.7,1.5],[7.9,1.4],[7.2,2.7],[7.6,2.6],[7.4,2.4],[7.8,2.3],[7.0,1.3],[7.35,1.55],[7.55,1.45],
  [8.05,2.0],[8.15,2.2],[8.25,1.7],[8.35,2.0],[8.45,2.1],[8.55,1.9],[8.65,2.0],[8.75,1.6],[8.85,2.0],[8.95,1.9],[8.1,1.3],[8.3,1.2],[8.5,1.3],
  [8.7,1.1],[8.9,1.2],[8.2,2.4],[8.6,2.6],[8.4,1.5],[8.8,2.3],[8.0,1.7],
  [9.05,2.0],[9.15,2.2],[9.25,1.9],[9.35,2.0],[9.45,1.6],[9.55,2.1],[9.65,1.8],[9.75,2.2],[9.85,1.9],[9.95,2.0],[9.1,1.2],[9.3,1.5],[9.5,1.1],
  [9.7,1.3],[9.9,1.5],[9.2,2.5],[9.6,2.5],[9.4,1.8],[9.8,2.5],[9.0,1.5],
  [10.05,1.9],[10.15,2.1],[10.25,1.6],[10.35,2.0],[10.45,1.9],[10.55,1.6],[10.65,2.1],[10.75,1.7],[10.85,1.9],[10.95,2.0],[10.1,1.1],[10.3,1.5],
  [10.5,1.1],[10.7,1.3],[10.9,1.4],[10.2,2.4],[10.6,2.5],[10.4,2.3],[10.8,2.4],[10.0,1.6],
  [11.05,1.9],[11.15,2.1],[11.25,1.6],[11.35,2.0],[11.45,1.5],[11.55,1.8],[11.65,2.1],[11.75,1.6],[11.85,1.9],[11.95,2.2],[11.1,1.3],[11.3,1.5],
  [11.5,1.0],[11.7,1.3],[11.9,1.0],[11.2,2.4],[11.6,2.5],[11.4,2.4],[11.8,2.3],[12.0,1.8],[12.0,1.5],[12.0,2.9],[12.0,3.2],[12.0,1.1]
]

// [week, subjective pain] - above median volatility
const abovePoints = [
  [0.02,8.85],[0.02,8.62],[0.02,8.22],[0.05,7.65],[0.13,7.13],[0,6.8],[0.05,6.5],[0,6.2],[0.1,5.9],[0,5.6],[0.05,5.3],[0,5.0],[0,4.7],[0.1,4.4],
  [0,4.1],[0.05,3.8],[0,3.5],[0,3.2],[0.1,2.9],[0,2.6],[0.05,2.3],[0,2.0],[0,1.6],[0.1,1.2],[0,0.8],[0.15,0.4],[0.1,6.3],[0.15,5.1],[0.2,3.7],[0.15,2.2],
  [0.44,8.9],[0.6,7.95],[0.76,7.59],[0.84,7.48],[0.68,7.05],[0.3,6.6],[0.55,6.4],[0.8,6.2],[0.4,5.8],[0.7,5.6],[0.9,5.4],[0.3,5.2],[0.6,4.9],
  [0.85,4.7],[0.45,4.5],[0.7,4.2],[0.35,3.9],[0.6,3.6],[0.9,3.4],[0.4,3.1],[0.75,2.9],[0.5,2.5],[0.85,2.2],[0.35,1.9],[0.65,1.6],[0.9,1.3],
  [0.5,1.0],[0.21,0.34],[0.6,0.11],[0.8,0.7],[0.3,4.3],[0.5,5.5],
  [1.24,8.39],[1.08,7.74],[1.32,7.21],[1.71,7.05],[1.1,6.6],[1.4,6.3],[1.75,6.5],[1.2,5.9],[1.55,5.7],[1.85,5.9],[1.05,5.3],[1.35,5.1],[1.65,5.4],
  [1.95,5.0],[1.15,4.7],[1.5,4.5],[1.8,4.8],[1.0,4.1],[1.3,3.9],[1.6,4.2],[1.9,3.8],[1.2,3.4],[1.45,3.1],[1.75,3.3],[1.05,2.8],[1.35,2.5],
  [1.65,2.7],[1.95,2.4],[1.2,2.0],[1.5,1.7],[1.8,1.9],[1.1,1.3],[1.4,1.0],[1.7,1.2],[1.16,0.57],[1.56,0.46],[1.3,0.2],[1.9,0.6],
  [2.19,7.78],[2.19,6.98],[2.59,6.85],[2.1,6.3],[2.4,6.1],[2.8,6.4],[2.25,5.6],[2.55,5.4],[2.9,5.7],[2.05,5.0],[2.35,4.8],[2.7,5.1],[2.95,4.6],
  [2.2,4.3],[2.5,4.1],[2.85,4.3],[2.1,3.7],[2.4,3.5],[2.75,3.7],[2.3,3.0],[2.6,2.8],[2.9,3.1],[2.15,2.4],[2.5,2.2],[2.85,2.0],[2.3,1.6],
  [2.7,1.4],[2.1,1.0],[2.6,0.8],[2.19,0.34],[2.75,0.23],[2.45,5.9],
  [3.38,6.98],[3.94,6.9],[3.1,6.2],[3.5,6.0],[3.8,6.3],[3.2,5.5],[3.6,5.3],[3.9,5.6],[3.05,4.8],[3.4,4.6],[3.75,4.9],[3.2,4.1],[3.55,3.9],
  [3.9,4.2],[3.1,3.4],[3.45,3.2],[3.8,3.5],[3.25,2.7],[3.6,2.5],[3.95,2.8],[3.05,2.0],[3.4,1.8],[3.75,2.1],[3.2,1.3],[3.55,1.1],[3.9,1.4],
  [3.38,0.17],[3.7,0.5],[3.1,0.8],[3.65,5.8],
  [4.33,6.53],[4.81,6.64],[4.41,6.39],[4.1,5.9],[4.6,5.7],[4.2,5.2],[4.5,5.0],[4.85,5.3],[4.05,4.5],[4.35,4.3],[4.7,4.6],[4.95,4.2],[4.15,3.7],
  [4.5,3.5],[4.8,3.8],[4.25,3.0],[4.6,2.8],[4.9,3.1],[4.1,2.3],[4.4,2.1],[4.75,2.4],[4.2,1.6],[4.55,1.4],[4.85,1.7],[4.3,0.9],[4.65,0.7],
  [4.1,0.11],[4.81,0.17],[4.95,1.0],[4.0,1.3],
  [5.76,6.33],[5.97,5.4],[5.1,6.0],[5.4,5.8],[5.2,5.1],[5.55,4.9],[5.85,5.0],[5.05,4.4],[5.35,4.2],[5.7,4.5],[5.15,3.6],[5.5,3.4],[5.8,3.7],
  [5.25,2.9],[5.6,2.7],[5.9,3.0],[5.1,2.2],[5.45,2.0],[5.75,2.3],[5.2,1.5],[5.55,1.3],[5.85,1.6],[5.35,0.8],[5.7,0.6],[5.29,0.06],[5.95,0.3],
  [5.0,3.2],[5.65,4.0],
  [6.24,6.19],[6.37,5.82],[6.7,5.6],[6.1,5.2],[6.45,5.0],[6.8,5.3],[6.2,4.5],[6.55,4.3],[6.9,4.6],[6.05,3.9],[6.35,3.7],[6.7,3.9],[6.15,3.2],
  [6.5,3.0],[6.85,3.3],[6.25,2.5],[6.6,2.3],[6.95,2.6],[6.1,1.8],[6.4,1.6],[6.75,1.9],[6.2,1.1],[6.55,0.9],[6.9,1.2],[6.24,0.11],[6.6,0.4],[6.9,0.06],
  [7.59,6.22],[7.2,5.7],[7.5,5.5],[7.85,5.2],[7.05,5.0],[7.35,4.8],[7.7,4.6],[7.1,4.2],[7.45,4.0],[7.8,4.3],[7.2,3.5],[7.55,3.3],[7.9,3.6],
  [7.05,2.8],[7.35,2.6],[7.7,2.9],[7.15,2.1],[7.5,1.9],[7.85,2.2],[7.25,1.4],[7.6,1.2],[7.95,1.5],[7.1,0.7],[7.45,0.5],[7.03,0.06],[7.67,0],[7.8,0.8],
  [8.19,7.05],[8.7,5.59],[8.1,5.9],[8.4,5.3],[8.9,5.1],[8.2,4.7],[8.55,4.5],[8.85,4.8],[8.05,4.0],[8.4,3.8],[8.75,4.1],[8.15,3.3],[8.5,3.1],
  [8.8,3.4],[8.3,2.7],[8.6,2.5],[8.95,2.8],[8.1,2.0],[8.45,1.8],[8.75,2.1],[8.25,1.3],[8.55,1.1],[8.9,1.4],[8.35,0.6],[8.22,0.02],[8.8,0.3],
  [8.6,0],[8.5,2.95],
  [9.41,6.67],[9.65,5.73],[9.1,5.5],[9.4,5.0],[9.8,5.2],[9.2,4.4],[9.55,4.2],[9.9,4.5],[9.05,3.7],[9.35,3.5],[9.7,3.8],[9.15,3.0],[9.5,2.8],
  [9.85,3.1],[9.25,2.3],[9.6,2.1],[9.95,2.4],[9.1,1.6],[9.45,1.4],[9.8,1.7],[9.3,0.9],[9.6,0.7],[9.1,0.02],[9.73,0.28],[9.95,1.0],[9.5,0.3],
  [10.29,5.67],[10.92,5.54],[10.1,5.0],[10.5,4.8],[10.8,5.1],[10.2,4.3],[10.55,4.1],[10.9,4.4],[10.05,3.6],[10.35,3.4],[10.7,3.7],[10.15,2.9],
  [10.5,2.7],[10.85,3.0],[10.25,2.2],[10.6,2.0],[10.95,2.3],[10.1,1.5],[10.45,1.3],[10.8,1.6],[10.3,0.8],[10.65,0.6],[10.13,0],[10.68,0.09],
  [10.9,0.9],[10.4,3.9],
  [11.24,5.46],[12.0,6.39],[12.0,6.05],[12.0,5.76],[11.1,5.0],[11.5,5.2],[11.85,4.9],[11.2,4.5],[11.6,4.3],[11.95,4.6],[11.05,3.9],[11.4,3.7],
  [11.75,4.0],[12.0,3.6],[11.15,3.2],[11.5,3.0],[11.85,3.3],[11.3,2.5],[11.65,2.3],[11.95,2.6],[11.1,1.8],[11.45,1.6],[11.8,1.9],[12.0,1.4],
  [11.2,1.1],[11.55,0.9],[11.9,0.6],[11.4,0],[11.8,0],[12.0,0],[11.6,0.3],[11.3,4.1],[12.0,2.1]
]

const aboveFill = [
  [0,7.3],[0,6.5],[0,5.8],[0,5.2],[0,4.4],[0,3.8],[0,2.9],[0,2.3],[0,1.3],[0.05,6.0],[0.05,4.9],[0.05,3.2],[0.05,1.8],[0.3,7.0],[0.5,6.9],
  [0.25,6.1],[0.45,6.0],[0.65,5.2],[0.2,4.8],[0.4,4.0],[0.8,4.0],[0.25,3.4],[0.55,3.0],[0.7,2.4],[0.3,2.4],[0.5,1.6],[0.8,1.8],[0.2,1.5],
  [0.4,0.6],[0.7,0.3],[0.9,6.6],[0.85,5.8],[0.6,6.5],
  [1.0,6.9],[1.3,6.8],[1.6,6.1],[1.9,6.4],[1.15,6.2],[1.45,5.4],[1.75,5.2],[1.1,5.6],[1.25,4.4],[1.55,4.9],[1.85,4.3],[1.05,3.5],[1.4,3.6],
  [1.7,3.8],[1.95,3.1],[1.25,2.9],[1.55,2.4],[1.85,2.6],[1.1,2.1],[1.4,1.5],[1.7,1.7],[1.95,1.1],[1.2,0.8],[1.6,0.2],[1.85,0.3],
  [2.0,6.7],[2.3,6.5],[2.65,6.2],[2.95,6.1],[2.15,5.3],[2.45,5.1],[2.75,5.5],[2.25,4.6],[2.6,4.5],[2.9,4.9],[2.05,4.0],[2.35,4.1],[2.65,3.9],
  [2.95,3.6],[2.2,3.2],[2.55,3.2],[2.85,2.6],[2.05,2.7],[2.4,1.9],[2.7,1.8],[2.95,2.3],[2.25,1.2],[2.55,1.5],[2.85,0.9],[2.4,0.5],[2.95,0.1],
  [3.0,6.6],[3.3,6.4],[3.6,6.6],[3.9,6.0],[3.15,5.8],[3.45,5.2],[3.75,5.4],[3.0,5.1],[3.3,4.4],[3.6,4.6],[3.9,4.8],[3.15,3.8],[3.45,4.0],
  [3.75,3.8],[3.0,3.1],[3.3,3.0],[3.6,3.1],[3.9,3.0],[3.15,2.4],[3.45,2.3],[3.75,2.6],[3.3,1.5],[3.6,1.7],[3.9,1.9],[3.05,1.1],[3.5,0.6],[3.85,0.2],
  [4.0,6.2],[4.25,6.1],[4.55,6.1],[4.9,5.8],[4.15,5.5],[4.4,5.6],[4.75,5.2],[4.0,4.8],[4.3,4.7],[4.6,4.3],[4.9,4.6],[4.05,4.0],[4.4,3.9],
  [4.7,4.0],[4.0,3.4],[4.35,3.2],[4.65,3.1],[4.95,3.5],[4.2,2.6],[4.5,2.4],[4.8,2.7],[4.05,1.8],[4.35,1.2],[4.7,1.3],[4.95,2.1],[4.5,0.4],[4.25,0.6],
  [5.0,5.6],[5.3,5.5],[5.6,5.4],[5.9,5.7],[5.15,4.8],[5.45,4.6],[5.75,4.8],[5.0,4.0],[5.3,3.9],[5.6,3.7],[5.9,4.2],[5.1,3.4],[5.4,3.1],
  [5.7,3.3],[5.0,2.5],[5.3,2.4],[5.6,2.1],[5.9,2.6],[5.15,1.8],[5.45,1.6],[5.75,1.2],[5.0,1.1],[5.4,0.3],[5.8,0.9],[5.6,0.05],
  [6.0,6.0],[6.3,5.5],[6.6,5.9],[6.9,5.0],[6.15,4.8],[6.45,4.6],[6.75,4.3],[6.0,4.2],[6.3,4.1],[6.6,3.6],[6.9,4.0],[6.1,3.5],[6.4,3.3],
  [6.75,3.1],[6.0,2.8],[6.3,2.7],[6.6,2.6],[6.9,2.9],[6.2,2.1],[6.5,1.9],[6.8,2.3],[6.0,1.4],[6.35,1.2],[6.7,1.5],[6.45,0.4],[6.1,0.7],[6.8,0.6],
  [7.0,5.6],[7.3,5.2],[7.65,5.5],[7.95,4.9],[7.15,4.6],[7.45,4.4],[7.8,4.0],[7.05,3.8],[7.35,3.9],[7.65,3.7],[7.95,3.3],[7.1,3.2],[7.4,3.0],
  [7.75,3.2],[7.0,2.4],[7.3,2.3],[7.6,2.5],[7.9,2.6],[7.2,1.7],[7.5,1.6],[7.8,1.8],[7.05,1.1],[7.35,0.9],[7.7,1.2],[7.3,0.2],[7.95,0.4],
  [8.0,5.5],[8.3,5.7],[8.6,5.0],[8.95,5.5],[8.15,5.0],[8.45,4.2],[8.8,4.4],[8.0,4.4],[8.3,3.5],[8.6,3.7],[8.95,3.7],[8.1,2.9],[8.4,2.6],
  [8.7,2.9],[8.0,2.3],[8.3,2.1],[8.6,2.2],[8.9,2.4],[8.15,1.6],[8.45,1.4],[8.75,1.7],[8.0,0.9],[8.3,0.9],[8.7,0.8],[8.45,0.2],[8.95,0.05],
  [9.0,5.2],[9.3,5.4],[9.6,4.8],[9.9,4.9],[9.15,4.7],[9.45,4.5],[9.75,4.3],[9.0,4.1],[9.3,3.9],[9.6,3.4],[9.9,3.7],[9.1,3.4],[9.4,3.2],
  [9.75,2.9],[9.0,2.6],[9.3,2.6],[9.6,2.4],[9.9,2.7],[9.2,1.9],[9.5,1.8],[9.8,2.0],[9.05,1.2],[9.35,1.2],[9.7,1.0],[9.3,0.4],[9.85,0.5],
  [10.0,5.3],[10.3,5.2],[10.65,5.0],[10.95,4.8],[10.15,4.6],[10.45,4.4],[10.8,4.5],[10.0,4.0],[10.3,3.8],[10.6,3.4],[10.95,3.8],[10.1,3.2],
  [10.4,3.0],[10.75,3.2],[10.0,2.5],[10.3,2.5],[10.6,2.4],[10.9,2.6],[10.2,1.8],[10.5,1.6],[10.8,1.9],[10.05,1.2],[10.35,1.1],[10.7,1.1],
  [10.3,0.3],[10.95,0.3],
  [11.0,5.3],[11.3,5.6],[11.65,4.9],[11.95,5.3],[11.15,4.8],[11.45,4.1],[11.8,4.4],[11.0,4.3],[11.3,3.5],[11.6,3.7],[11.95,3.9],[11.1,2.9],
  [11.4,2.7],[11.75,2.9],[11.0,2.4],[11.3,2.0],[11.6,2.0],[11.9,2.2],[11.2,1.5],[11.5,1.3],[11.8,1.4],[11.05,0.8],[11.35,0.5],[11.7,0.7],
  [12.0,4.2],[12.0,3.0],[12.0,0.9],[12.0,0.4],[11.9,0],[11.7,0]
]

const FONT = 'Liberation Sans, Arial, sans-serif'
const TEXT = '#1a1a1a'
const GRIDLINE = '#e3ebef'

const chart = echarts.init(document.getElementById('chart'), null, { renderer: 'canvas' })

// shared axis styling, stata-like
const axisBase = (ticks, labels, rotate) => ({
  axisLine: { show: true, onZero: false, lineStyle: { color: '#222', width: 1.5 } },
  axisTick: { show: true, length: 5, customValues: ticks, lineStyle: { color: '#222', width: 1 } },
  axisLabel: {
    customValues: ticks,
    rotate: rotate || 0,
    margin: 7,
    color: TEXT,
    fontFamily: FONT,
    fontSize: 15.5,
    formatter: v => labels ? labels[ticks.indexOf(v)] : String(v)
  },
  splitLine: { show: false }
})

const nameStyle = { color: TEXT, fontFamily: FONT, fontSize: 19 }
const titleStyle = { color: TEXT, fontFamily: FONT, fontSize: 19, fontWeight: 'normal' }

const gridLines = (xAxisIndex, yAxisIndex, values) => ({
  type: 'line',
  xAxisIndex,
  yAxisIndex,
  data: [],
  silent: true,
  markLine: {
    z: 1,
    silent: true,
    symbol: 'none',
    label: { show: false },
    lineStyle: { color: GRIDLINE, type: 'solid', width: 1 },
    data: values.map(v => ({ yAxis: v }))
  }
})

const boxLabel = {
  show: true,
  position: 'inside',
  color: '#111',
  opacity: 1,
  fontFamily: FONT,
  backgroundColor: '#fff',
  borderColor: '#111',
  borderWidth: 1.2
}

const labelSeries = (xAxisIndex, yAxisIndex, points, texts, fontSize, padding) => ({
  type: 'scatter',
  xAxisIndex, yAxisIndex,
  symbol: 'rect', symbolSize: 1,
  silent: true,
  z: 6,
  itemStyle: { color: '#fff', opacity: 1 },
  label: Object.assign({}, boxLabel, { fontSize, padding, formatter: p => texts[p.dataIndex] }),
  data: points
})

const scatterSeries = (xAxisIndex, yAxisIndex, data, size, color) => ({
  type: 'scatter',
  xAxisIndex, yAxisIndex,
  symbol: 'rect', symbolSize: size,
  large: false,
  silent: true,
  itemStyle: { color, opacity: 1 },
  data
})

const residualSeries = scatterSeries(0, 0, residualsCore.concat(residualsFill, residualsCenter, residualsOuter), 5, '#000')
residualSeries.markLine = {
  silent: true,
  symbol: 'none',
  label: { show: false },
  lineStyle: { color: '#777', type: [6, 4], width: 1 },
  data: percentiles.map(v => ({ xAxis: v }))
}

const option = {
  animation: false,
  backgroundColor: '#fff',
  textStyle: { fontFamily: FONT },
  title: [
    { text: 'Pain residuals plotted over pain volatility scores', left: 349, top: 21, textAlign: 'center', textStyle: titleStyle },
    { text: 'Average pain trajectories and pain residuals', left: 332, top: 471, textAlign: 'center', textStyle: titleStyle },
    { text: 'Week of Treatment', left: 335, top: 837, textAlign: 'center', textStyle: titleStyle }
  ],
  graphic: [
    { type: 'rect', shape: { x: 8, y: 5, width: 617, height: 419 }, style: { fill: 'none', stroke: '#e6edf1', lineWidth: 2 }, silent: true },
    { type: 'rect', shape: { x: 8, y: 454, width: 617, height: 430 }, style: { fill: 'none', stroke: '#e6edf1', lineWidth: 2 }, silent: true }
  ],
  grid: [
    { left: 72, top: 46, width: 551, height: 313, show: true, borderColor: '#333', borderWidth: 1.5, backgroundColor: 'transparent' },
    { left: 73, top: 500, width: 266, height: 307, show: true, borderColor: '#333', borderWidth: 1.5, backgroundColor: 'transparent' },
    { left: 351, top: 500, width: 266, height: 307, show: true, borderColor: '#333', borderWidth: 1.5, backgroundColor: 'transparent' }
  ],
  xAxis: [
    Object.assign({
      gridIndex: 0, type: 'value', min: -0.042, max: 2.557,
      name: 'Pain volatility score', nameLocation: 'middle', nameGap: 28, nameTextStyle: nameStyle
    }, axisBase(volatilityTicks, volatilityTickLabels)),
    Object.assign({ gridIndex: 1, type: 'value', min: -0.38, max: 12.29 }, axisBase(weekTicks)),
    Object.assign({ gridIndex: 2, type: 'value', min: -0.38, max: 12.29 }, axisBase(weekTicks))
  ],
  yAxis: [
    Object.assign({
      gridIndex: 0, type: 'value', min: -6.34, max: 7.15,
      name: 'Deviations from pain trajectories', nameLocation: 'middle', nameGap: 26, nameTextStyle: nameStyle
    }, axisBase(deviationTicks, null, 90)),
    Object.assign({
      gridIndex: 1, type: 'value', min: -0.24, max: 10.27,
      name: 'Subjective pain score', nameLocation: 'middle', nameGap: 34, nameTextStyle: nameStyle
    }, axisBase(painTicks, null, 90)),
    Object.assign({ gridIndex: 2, type: 'value', min: -0.24, max: 10.27 }, axisBase(painTicks), {
      axisLabel: { show: false }, axisTick: { show: false }
    })
  ],
  series: [
    gridLines(0, 0, deviationTicks),
    gridLines(1, 1, painTicks),
    gridLines(2, 2, painTicks),
    residualSeries,
    labelSeries(0, 0, percentiles.map(v => [v, -5.78]), percentileLabels, 15, [2, 4, 1, 4]),
    scatterSeries(1, 1, belowPoints.concat(belowFill), 4.2, '#3d3d3d'),
    scatterSeries(2, 2, abovePoints.concat(aboveFill), 4.2, '#3d3d3d'),
    {
      type: 'line',
      xAxisIndex: 1, yAxisIndex: 1,
      smooth: 0.3, symbol: 'none', z: 4, silent: true,
      lineStyle: { color: '#000', width: 5 },
      data: weeks.map((w, i) => [w, belowTrend[i]])
    },
    {
      type: 'line',
      xAxisIndex: 2, yAxisIndex: 2,
      smooth: 0.3, symbol: 'none', z: 4, silent: true,
      lineStyle: { color: '#000', width: 5 },
      data: weeks.map((w, i) => [w, aboveTrend[i]])
    },
    labelSeries(1, 1, [[6, 9.93]], [panelLabels[0]], 17.5, [0, 3, 0, 3]),
    labelSeries(2, 2, [[6, 9.93]], [panelLabels[1]], 17.5, [0, 3, 0, 3])
  ]
}

chart.setOption(option)
</script>
</body>
</html>
